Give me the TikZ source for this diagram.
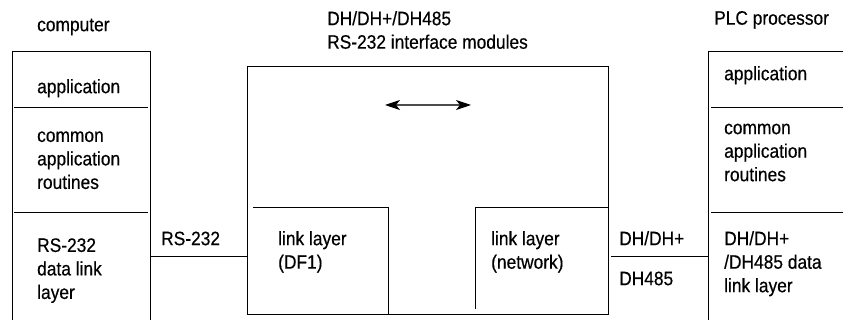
\documentclass[tikz,border=0pt]{standalone}
\usepackage{fontspec}
\setmainfont[FakeStretch=0.89,FakeBold=0.4]{Liberation Sans}
\usetikzlibrary{arrows.meta}
\newcommand\tstrut{\rule{0pt}{15pt}}
\tikzset{
  lbl/.style={anchor=north west, inner sep=0pt, align=left,
    font=\fontsize{19.5}{23.5}\selectfont},
  frame/.style={line width=0.8pt, draw=black},
  link/.style={line width=0.8pt, draw=black},
  flow/.style={line width=1.1pt, draw=black!70, {Stealth[length=15pt,width=10pt,inset=4pt,color=black]}-{Stealth[length=15pt,width=10pt,inset=4pt,color=black]}},
}
\begin{document}
\begin{tikzpicture}[x=1pt,y=-1pt]
\useasboundingbox (0,0) rectangle (843,320);
% left box (computer)
\coordinate (cBL) at (12,320);
\coordinate (cTL) at (12,51);
\coordinate (cTR) at (150,51);
\coordinate (cBR) at (150,320);
\draw[frame] (cBL) -- (cTL) -- (cTR) -- (cBR);
\draw[frame] (14,107) -- (148,107);
\draw[frame] (14,212) -- (148,212);
% middle box (modules)
\draw[frame] (247,66) rectangle (608,314);
\draw[frame] (253,207) -- (388,207) -- (388,314);
\draw[frame] (475,309) -- (475,207) -- (608,207);
% right box (PLC)
\coordinate (pTR) at (843,51);
\coordinate (pTL) at (708,51);
\coordinate (pBL) at (708,320);
\draw[frame] (pTR) -- (pTL) -- (pBL);
\draw[frame] (711,107) -- (843,107);
\draw[frame] (711,212) -- (843,212);
% connectors
\coordinate (cR) at (150,256);
\coordinate (mL) at (247,256);
\coordinate (mR) at (611,256);
\coordinate (pL) at (708,256);
\draw[link] (cR) -- (mL);
\draw[link] (mR) -- (pL);
% arrow
\coordinate (a1) at (385,105);
\coordinate (a2) at (471,105);
\draw[flow] (a1) -- (a2);
% texts
\node[lbl] (tcomp) at (37,16) {\tstrut computer};
\node[lbl] (tmod) at (327,10) {\tstrut DH/DH+/DH485\\RS-232 interface modules};
\node[lbl] (tplc) at (714,9.5) {\tstrut PLC processor};
\node[lbl] (capp) at (37,78) {\tstrut application};
\node[lbl] (ccom) at (37,126.7) {\tstrut common\\application\\routines};
\node[lbl] (clink) at (37,236.7) {\tstrut RS-232\\data link\\layer};
\node[lbl] (trs) at (161,230) {\tstrut RS-232};
\node[lbl] (tdf) at (278,230) {\tstrut link layer\\(DF1)};
\node[lbl] (tnet) at (491,230) {\tstrut link layer\\(network)};
\node[lbl] (tdh) at (619,230) {\tstrut DH/DH+};
\node[lbl] (tdh4) at (619,270) {\tstrut DH485};
\node[lbl] (papp) at (724,65) {\tstrut application};
\node[lbl] (pcom) at (724,119) {\tstrut common\\application\\routines};
\node[lbl] (plink) at (724,230) {\tstrut DH/DH+\\/DH485 data\\link layer};
\end{tikzpicture}
\end{document}
